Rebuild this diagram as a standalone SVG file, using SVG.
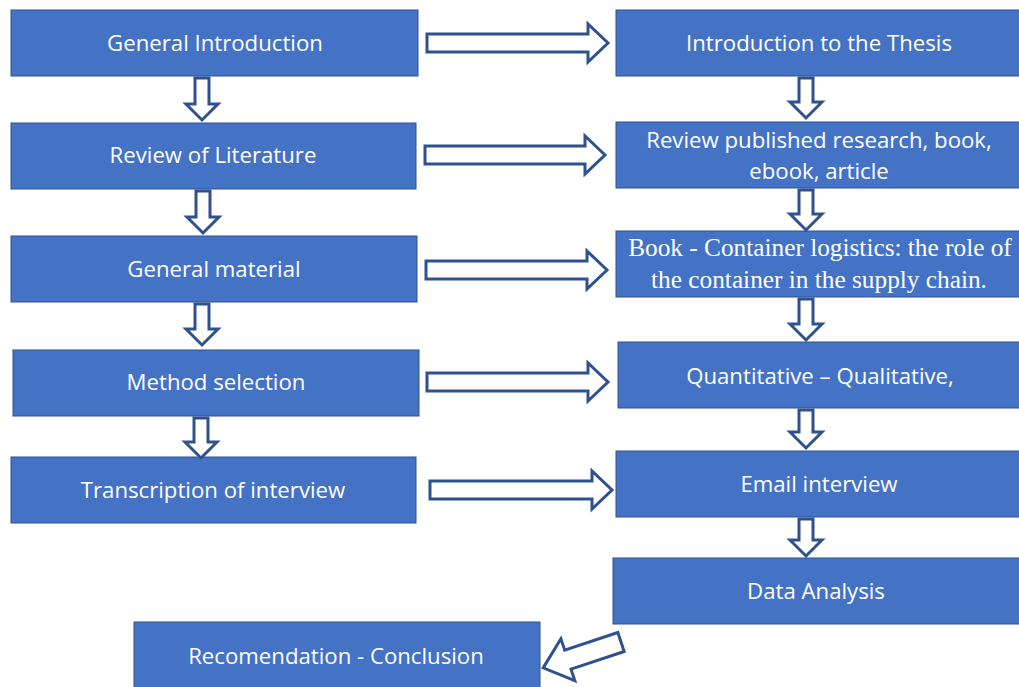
<svg xmlns="http://www.w3.org/2000/svg" width="1019" height="687" viewBox="0 0 1019 687">
<style>
.box{fill:#4472C4;stroke:#2F528F;stroke-width:1}
.t{font-family:"Open Sans","Liberation Sans",sans-serif;font-size:22.2px;fill:#fff;text-anchor:middle;dominant-baseline:central}
.s{font-family:"Liberation Serif","Times New Roman",serif;font-size:25.3px;fill:#fff;text-anchor:middle;dominant-baseline:central}
.arr{fill:#fff;stroke:#2F528F;stroke-width:3;stroke-linejoin:miter}
</style>
<rect width="1019" height="687" fill="#fff"/>
<g id="n1"><rect class="box" x="11" y="10" width="407" height="66"/><text class="t" x="215" y="42">General Introduction</text></g>
<g id="n2"><rect class="box" x="11" y="123" width="405" height="66"/><text class="t" x="213" y="154">Review of Literature</text></g>
<g id="n3"><rect class="box" x="11" y="236" width="406" height="66"/><text class="t" x="214" y="268">General material</text></g>
<g id="n4"><rect class="box" x="13" y="350" width="406" height="66"/><text class="t" x="216" y="381">Method selection</text></g>
<g id="n5"><rect class="box" x="11" y="457" width="405" height="66"/><text class="t" x="213" y="489">Transcription of interview</text></g>
<g id="n6"><rect class="box" x="616" y="10" width="406" height="66"/><text class="t" x="819" y="42">Introduction to the Thesis</text></g>
<g id="n7"><rect class="box" x="616" y="122" width="406" height="66"/><text class="t" x="819" y="139">Review published research, book,</text><text class="t" x="819" y="170">ebook, article</text></g>
<g id="n8"><rect class="box" x="616" y="231" width="406" height="66"/><text class="s" x="820" y="247">Book - Container logistics: the role of</text><text class="s" x="819" y="279">the container in the supply chain.</text></g>
<g id="n9"><rect class="box" x="618" y="342" width="404" height="66"/><text class="t" x="820" y="375">Quantitative – Qualitative,</text></g>
<g id="n10"><rect class="box" x="616" y="451" width="406" height="66"/><text class="t" x="819" y="483">Email interview</text></g>
<g id="n11"><rect class="box" x="613" y="558" width="409" height="66"/><text class="t" x="816" y="590">Data Analysis</text></g>
<g id="n12"><rect class="box" x="134" y="622" width="406" height="66"/><text class="t" x="336" y="655">Recomendation - Conclusion</text></g>
<g id="connectors">
<path class="arr" d="M427 34 H588 V24 L608 43 L588 62 V52 H427 Z"/>
<path class="arr" d="M425 146 H585 V136 L605 155 L585 174 V164 H425 Z"/>
<path class="arr" d="M426 261 H587 V251 L607 270 L587 289 V279 H426 Z"/>
<path class="arr" d="M427 373 H588 V363 L608 382 L588 401 V391 H427 Z"/>
<path class="arr" d="M430 481 H592 V471 L612 490 L592 509 V499 H430 Z"/>
<path class="arr" d="M195 78 H209 V104 H218 L202 120 L186 104 H195 Z"/>
<path class="arr" d="M196 191 H210 V217 H219 L203 233 L187 217 H196 Z"/>
<path class="arr" d="M195 304 H209 V329 H218 L202 345 L186 329 H195 Z"/>
<path class="arr" d="M194 418 H208 V442 H217 L201 458 L185 442 H194 Z"/>
<path class="arr" d="M799 78 H813 V102 H822 L806 118 L790 102 H799 Z"/>
<path class="arr" d="M799 190 H813 V214 H822 L806 230 L790 214 H799 Z"/>
<path class="arr" d="M799 299 H813 V324 H822 L806 340 L790 324 H799 Z"/>
<path class="arr" d="M799 410 H813 V432 H822 L806 448 L790 432 H799 Z"/>
<path class="arr" d="M799 519 H813 V540 H822 L806 556 L790 540 H799 Z"/>
<path class="arr" transform="translate(621,642) rotate(161.6)" d="M0 -10 H56 V-22 L82 0 L56 22 V10 H0 Z"/>
</g>
</svg>
